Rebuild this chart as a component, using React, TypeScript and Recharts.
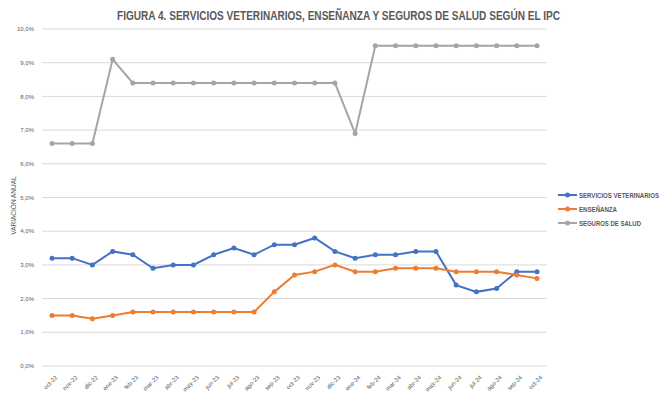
import React from "react"
import { LineChart, Line, XAxis, YAxis, CartesianGrid } from "recharts"

const months = [
  "oct-22", "nov-22", "dic-22", "ene-23", "feb-23", "mar-23", "abr-23", "may-23", "jun-23",
  "jul-23", "ago-23", "sep-23", "oct-23", "nov-23", "dic-23", "ene-24", "feb-24", "mar-24",
  "abr-24", "may-24", "jun-24", "jul-24", "ago-24", "sep-24", "oct-24",
]

const veterinarios = [
  3.2, 3.2, 3.0, 3.4, 3.3, 2.9, 3.0, 3.0, 3.3, 3.5, 3.3, 3.6, 3.6, 3.8, 3.4, 3.2, 3.3, 3.3,
  3.4, 3.4, 2.4, 2.2, 2.3, 2.8, 2.8,
]
const ensenanza = [
  1.5, 1.5, 1.4, 1.5, 1.6, 1.6, 1.6, 1.6, 1.6, 1.6, 1.6, 2.2, 2.7, 2.8, 3.0, 2.8, 2.8, 2.9,
  2.9, 2.9, 2.8, 2.8, 2.8, 2.7, 2.6,
]
const seguros = [
  6.6, 6.6, 6.6, 9.1, 8.4, 8.4, 8.4, 8.4, 8.4, 8.4, 8.4, 8.4, 8.4, 8.4, 8.4, 6.9, 9.5, 9.5,
  9.5, 9.5, 9.5, 9.5, 9.5, 9.5, 9.5,
]
const yTicks = [0, 1, 2, 3, 4, 5, 6, 7, 8, 9, 10]

// legend text widths approximate the narrow font in the original
const series = [
  { key: "vet", name: "SERVICIOS VETERINARIOS", color: "#4472C4", textW: 80 },
  { key: "ens", name: "ENSEÑANZA", color: "#ED7D31", textW: 38 },
  { key: "seg", name: "SEGUROS DE SALUD", color: "#A5A5A5", textW: 62 },
]

const data = months.map((m, i) => ({
  month: m,
  vet: veterinarios[i],
  ens: ensenanza[i],
  seg: seguros[i],
}))

const FONT = "'Liberation Sans', Arial, sans-serif"
const TEXT = "#595959"

const XTick = (props: any) => {
  const { x, y, payload } = props
  return (
    <g transform={`translate(${x + 3},${y + 1})`}>
      <text textAnchor="end" fontSize={6} fill={TEXT} fontFamily={FONT} transform="rotate(-45)" dy={4}>
        {payload.value}
      </text>
    </g>
  )
}

export default function App() {
  return (
    <div style={{ position: "absolute", left: 0, top: 0, width: 670, height: 397, background: "#fff" }}>
      <LineChart width={670} height={397} data={data} margin={{ top: 29, right: 123, bottom: 0, left: 2 }}>
        <CartesianGrid vertical={false} stroke="#D9D9D9" strokeWidth={1} />
        <XAxis
          dataKey="month"
          interval={0}
          padding={{ left: 10, right: 10 }}
          axisLine={false}
          tickLine={false}
          tick={<XTick />}
          height={31}
        />
        <YAxis
          domain={[0, 10]}
          ticks={yTicks}
          width={40}
          axisLine={false}
          tickLine={false}
          tickFormatter={(v: number) => v.toFixed(1).replace(".", ",") + "%"}
          tick={{ fontSize: 6, fill: TEXT, fontFamily: FONT }}
          label={{
            value: "VARIACIÓN ANUAL",
            angle: -90,
            position: "insideLeft",
            offset: 12,
            dy: 8,
            style: { fontSize: 6.5, fill: TEXT, fontFamily: FONT, textAnchor: "middle" },
          }}
        />
        {series.map((s) => (
          <Line
            key={s.key}
            type="linear"
            dataKey={s.key}
            name={s.name}
            stroke={s.color}
            strokeWidth={2}
            dot={{ r: 2.5, fill: s.color, stroke: s.color, strokeWidth: 0 }}
            isAnimationActive={false}
          />
        ))}
      </LineChart>
      <svg width={670} height={397} style={{ position: "absolute", left: 0, top: 0, pointerEvents: "none" }}>
        <text
          x={117}
          y={20}
          fontFamily={FONT}
          fontWeight={700}
          fontSize={13.5}
          fill={TEXT}
          textLength={443}
          lengthAdjust="spacingAndGlyphs"
        >
          FIGURA 4. SERVICIOS VETERINARIOS, ENSEÑANZA Y SEGUROS DE SALUD SEGÚN EL IPC
        </text>
        {series.map((s, i) => {
          const y = 195 + i * 14
          return (
            <g key={s.key}>
              <line x1={558} y1={y} x2={577} y2={y} stroke={s.color} strokeWidth={2} />
              <circle cx={567.5} cy={y} r={2.5} fill={s.color} />
              <text
                x={579}
                y={y + 2.8}
                fontFamily={FONT}
                fontWeight={700}
                fontSize={7.5}
                fill={TEXT}
                textLength={s.textW}
                lengthAdjust="spacingAndGlyphs"
              >
                {s.name}
              </text>
            </g>
          )
        })}
      </svg>
    </div>
  )
}
